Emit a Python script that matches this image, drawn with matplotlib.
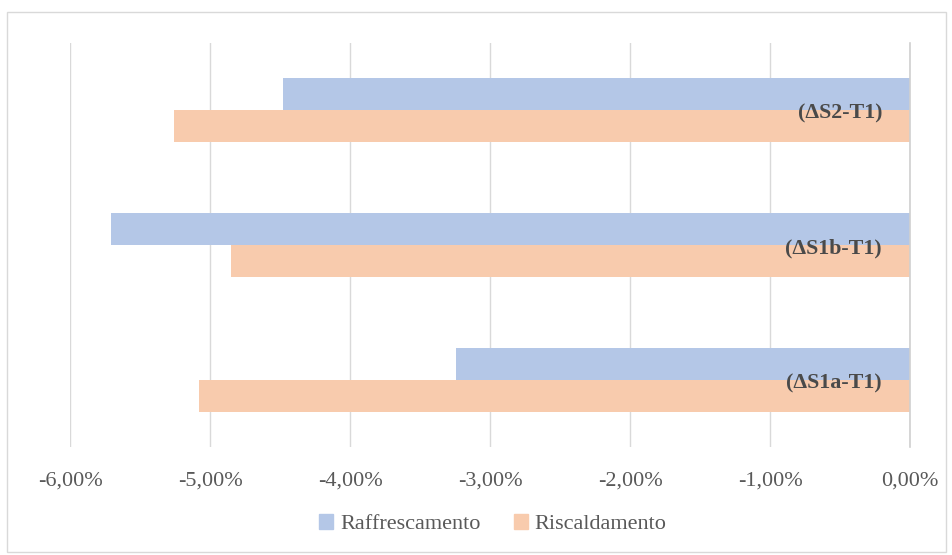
import matplotlib
matplotlib.use("Agg")
import matplotlib.pyplot as plt
from matplotlib.patches import Rectangle, Patch
from matplotlib.ticker import FuncFormatter

categories = ["(\u0394S1a-T1)", "(\u0394S1b-T1)", "(\u0394S2-T1)"]
raffrescamento = [-3.24, -5.71, -4.48]
riscaldamento = [-5.08, -4.85, -5.26]
series_names = ["Raffrescamento", "Riscaldamento"]
xticks = [-6, -5, -4, -3, -2, -1, 0]

blue = "#B4C7E7"
orange = "#F8CBAD"
txt = "#595959"
font = ["Liberation Serif", "DejaVu Serif"]
plt.rcParams["font.family"] = font

fig = plt.figure(figsize=(9.53, 5.55), dpi=100)
fig.patches.append(Rectangle((0.007, 0.005), 0.986, 0.973, transform=fig.transFigure,
                             fill=False, edgecolor="#D9D9D9", linewidth=1.0))
ax = fig.add_axes([0.0735, 0.1937, 0.8815, 0.7297])

h = 0.237
y = list(range(len(categories)))
ax.barh([v + h / 2 for v in y], raffrescamento, height=h, color=blue, zorder=2)
ax.barh([v - h / 2 for v in y], riscaldamento, height=h, color=orange, zorder=2)

for i, c in enumerate(categories):
    ax.annotate(c, xy=(0, i), xytext=(-28, -3), textcoords="offset pixels",
                ha="right", va="center", fontsize=15.8, color="#4a4a4a",
                fontweight="bold", zorder=3)

ax.set_xlim(-6, 0)
ax.set_ylim(-0.5, 2.5)
ax.set_xticks(xticks)
ax.xaxis.set_major_formatter(FuncFormatter(lambda v, p: f"{v:.2f}%".replace(".", ",")))
ax.set_yticks([])
ax.grid(axis="x", color="#D9D9D9", linewidth=1.0, zorder=0)
for s in ["top", "bottom", "left"]:
    ax.spines[s].set_visible(False)
ax.spines["right"].set_color("#D0D0D0")
ax.spines["right"].set_linewidth(1.2)
ax.spines["right"].set_zorder(3)
ax.tick_params(axis="x", length=0, pad=17, labelsize=16, labelcolor=txt)

handles = [Patch(color=blue), Patch(color=orange)]
fig.legend(handles, series_names, loc="center", bbox_to_anchor=(0.517, 0.056), ncol=2,
           frameon=False, fontsize=16, labelcolor=txt, handlelength=0.65, handleheight=0.65,
           handletextpad=0.3, columnspacing=1.5)

fig.savefig("out.png", dpi=100)
